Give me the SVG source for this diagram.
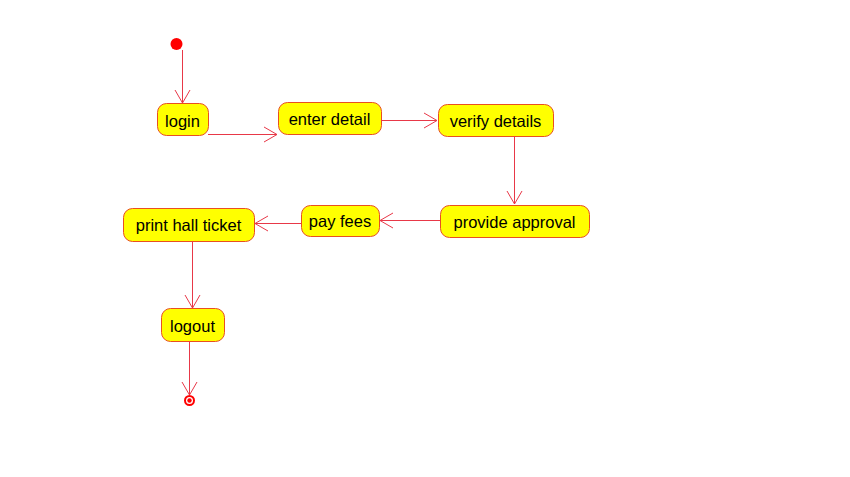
<svg xmlns="http://www.w3.org/2000/svg" width="850" height="477" viewBox="0 0 850 477">
<style>
.n rect{fill:#ffff00;stroke:#e85020;stroke-width:1}
.n text{font-family:"Liberation Sans",Arial,sans-serif;font-size:16.5px;fill:#000;text-anchor:middle}
.c line{stroke:#e83848;stroke-width:1;fill:none;marker-end:url(#a)}
</style>
<defs>
<marker id="a" markerUnits="userSpaceOnUse" viewBox="-14 -8 15 16" refX="0" refY="0" markerWidth="15" markerHeight="16" orient="auto" overflow="visible">
<path d="M-13,-7.5 L0,0 L-13,7.5" fill="none" stroke="#e83848" stroke-width="1"/>
</marker>
</defs>
<rect width="850" height="477" fill="#fff"/>
<g id="start"><circle cx="176.5" cy="44" r="6" fill="#ff0000"/></g>
<g id="login" class="n"><rect x="157.5" y="103.5" width="51" height="32" rx="9"/><text x="182.5" y="126.5">login</text></g>
<g id="enter-detail" class="n"><rect x="278.5" y="102.5" width="103" height="32" rx="9"/><text x="329.5" y="124.5">enter detail</text></g>
<g id="verify-details" class="n"><rect x="438.5" y="104.5" width="115" height="32" rx="9"/><text x="495.5" y="126.5">verify details</text></g>
<g id="provide-approval" class="n"><rect x="440.5" y="205.5" width="149" height="32" rx="9"/><text x="514.5" y="227.5">provide approval</text></g>
<g id="pay-fees" class="n"><rect x="301.5" y="205.5" width="78" height="31" rx="9"/><text x="340" y="227">pay fees</text></g>
<g id="print-hall-ticket" class="n"><rect x="123.5" y="208.5" width="131" height="33" rx="9"/><text x="188.5" y="230.5">print hall ticket</text></g>
<g id="logout" class="n"><rect x="161.5" y="308.5" width="63" height="33" rx="9"/><text x="192.5" y="331.5">logout</text></g>
<g id="end"><circle cx="189.5" cy="400.5" r="4.5" fill="#fff" stroke="#ff0000" stroke-width="2"/><circle cx="189.5" cy="400.5" r="2.2" fill="#ff0000"/></g>
<g id="connectors" class="c">
<line x1="182.5" y1="50" x2="182.5" y2="103"/>
<line x1="208" y1="134.5" x2="277" y2="134.5"/>
<line x1="381" y1="120.5" x2="437" y2="120.5"/>
<line x1="514.5" y1="136" x2="514.5" y2="204"/>
<line x1="440" y1="220.5" x2="380" y2="220.5"/>
<line x1="301" y1="223.5" x2="255" y2="223.5"/>
<line x1="192.5" y1="241" x2="192.5" y2="308"/>
<line x1="189.5" y1="341" x2="189.5" y2="395"/>
</g>
</svg>
